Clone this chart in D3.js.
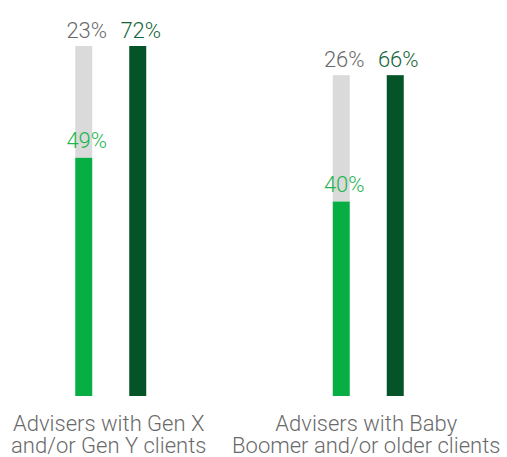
<!DOCTYPE html>
<html>
<head>
<meta charset="utf-8">
<script src="https://cdn.jsdelivr.net/npm/d3@7"></script>
<style>
  html, body { margin: 0; padding: 0; background: #fff; }
  svg { display: block; font-family: Roboto, "Open Sans", sans-serif; }
</style>
</head>
<body>
<svg id="chart" width="507" height="457"></svg>
<script>
// Share of advisers, by client generation
const groups = ["Advisers with Gen X\nand/or Gen Y clients", "Advisers with Baby\nBoomer and/or older clients"];
const baseValues = [49, 40];   // light green portion
const addedValues = [23, 26];  // grey portion stacked on top
const totalValues = [72, 66];  // dark green bar

const colors = {
  base: "#06AE44",
  added: "#D9DAD9",
  total: "#045428",
  baseText: "#1DB64F",
  addedText: "#686868",
  totalText: "#14653A",
  axisText: "#6A6A6A"
};

const W = 507, H = 457;
const svg = d3.select("#chart");

const x = d3.scaleBand().domain(groups).range([-18, 497]).padding(0);
const inner = d3.scalePoint().domain(["stack", "total"])
  .range([x.bandwidth() / 2 - 27, x.bandwidth() / 2 + 27]);
const barW = 17;

const y = d3.scaleLinear().domain([0, d3.max(totalValues)]).range([396, 46]);

const data = groups.map((g, i) => ({
  group: g, base: baseValues[i], added: addedValues[i], total: totalValues[i]
}));

const g = svg.selectAll("g.group").data(data).join("g")
  .attr("class", "group")
  .attr("transform", d => `translate(${x(d.group)},0)`);

// stacked bar: base + added
g.append("rect")
  .attr("x", inner("stack") - barW / 2).attr("width", barW)
  .attr("y", d => y(d.base + d.added))
  .attr("height", d => y(d.base) - y(d.base + d.added))
  .attr("fill", colors.added);
g.append("rect")
  .attr("x", inner("stack") - barW / 2).attr("width", barW)
  .attr("y", d => y(d.base))
  .attr("height", d => y(0) - y(d.base))
  .attr("fill", colors.base);

// total bar
g.append("rect")
  .attr("x", inner("total") - barW / 2).attr("width", barW)
  .attr("y", d => y(d.total))
  .attr("height", d => y(0) - y(d.total))
  .attr("fill", colors.total);

const valueFont = 22;
const labelDx = 3;

g.append("text")
  .attr("x", inner("stack") + labelDx)
  .attr("y", d => y(d.base + d.added) - 8)
  .attr("text-anchor", "middle")
  .attr("font-size", valueFont).attr("font-weight", 300)
  .attr("fill", colors.addedText)
  .text(d => d.added + "%");

g.append("text")
  .attr("x", inner("stack") + labelDx)
  .attr("y", d => y(d.base) - 10)
  .attr("text-anchor", "middle")
  .attr("font-size", valueFont).attr("font-weight", 300)
  .attr("fill", colors.baseText)
  .text(d => d.base + "%");

g.append("text")
  .attr("x", inner("total") + labelDx)
  .attr("y", d => y(d.total) - 8)
  .attr("text-anchor", "middle")
  .attr("font-size", valueFont).attr("font-weight", 300)
  .attr("fill", colors.totalText)
  .text(d => d.total + "%");

// category labels, two lines each
const cat = g.append("text")
  .attr("x", x.bandwidth() / 2 - 2)
  .attr("y", 431)
  .attr("text-anchor", "middle")
  .attr("font-size", 22).attr("font-weight", 300)
  .attr("fill", colors.axisText);
cat.selectAll("tspan").data(d => d.group.split("\n")).join("tspan")
  .attr("x", x.bandwidth() / 2 - 2)
  .attr("dy", (d, i) => i === 0 ? 0 : 22)
  .text(d => d);
</script>
</body>
</html>
